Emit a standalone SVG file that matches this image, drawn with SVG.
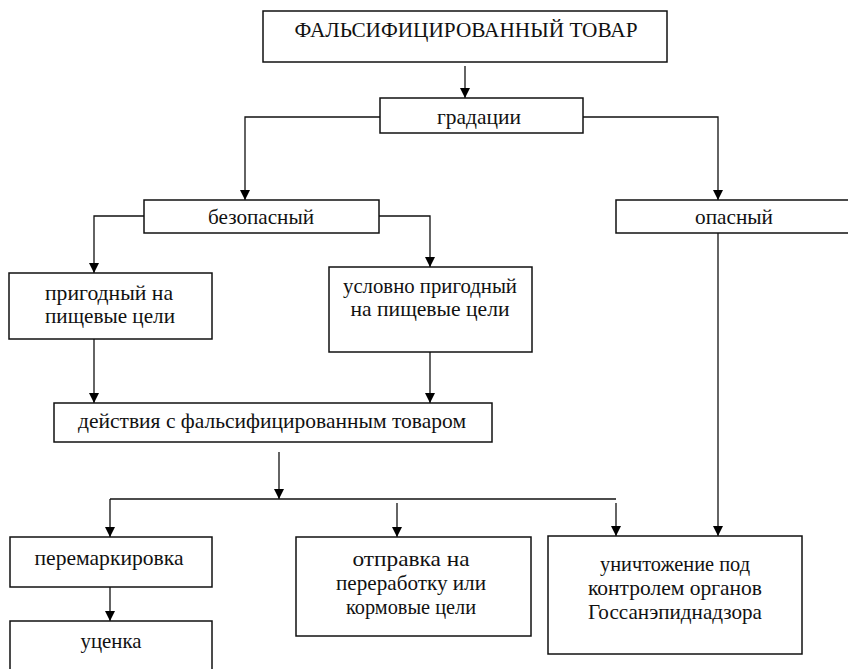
<svg xmlns="http://www.w3.org/2000/svg" width="848" height="669" viewBox="0 0 848 669">
<style>
  .box { fill: #ffffff; stroke: #111111; stroke-width: 1.5; }
  .lbl { font-family: "Liberation Serif", "DejaVu Serif", "Times New Roman", serif; font-size: 22px; fill: #111111; text-anchor: middle; }
  .conn { fill: none; stroke: #111111; stroke-width: 1.3; }
</style>
<defs>
  <marker id="arr" markerUnits="userSpaceOnUse" markerWidth="10" markerHeight="12" refX="10" refY="5" orient="auto" viewBox="0 0 10 10">
    <path d="M0,0 L10,5 L0,10 z" fill="#000000"/>
  </marker>
</defs>
<rect width="848" height="669" fill="#ffffff"/>

<g id="connectors">
  <path class="conn" d="M465,66 V98" marker-end="url(#arr)"/>
  <path class="conn" d="M380,117 H245 V200" marker-end="url(#arr)"/>
  <path class="conn" d="M583,117 H718 V200" marker-end="url(#arr)"/>
  <path class="conn" d="M144,216 H94 V273" marker-end="url(#arr)"/>
  <path class="conn" d="M379,216 H430 V267" marker-end="url(#arr)"/>
  <path class="conn" d="M94,339 V403" marker-end="url(#arr)"/>
  <path class="conn" d="M430,352 V403" marker-end="url(#arr)"/>
  <path class="conn" d="M279,452 V499" marker-end="url(#arr)"/>
  <path class="conn" d="M110,499 H616"/>
  <path class="conn" d="M110,499 V537" marker-end="url(#arr)"/>
  <path class="conn" d="M397,503 V537" marker-end="url(#arr)"/>
  <path class="conn" d="M616,503 V536" marker-end="url(#arr)"/>
  <path class="conn" d="M718,233 V536" marker-end="url(#arr)"/>
  <path class="conn" d="M110,587 V621" marker-end="url(#arr)"/>
</g>

<g id="n-falsified">
  <rect class="box" x="263" y="11" width="404" height="51"/>
  <text class="lbl" x="466" y="37" textLength="343" lengthAdjust="spacingAndGlyphs">ФАЛЬСИФИЦИРОВАННЫЙ ТОВАР</text>
</g>
<g id="n-gradations">
  <rect class="box" x="380" y="98" width="203" height="35"/>
  <text class="lbl" x="479" y="124" textLength="84" lengthAdjust="spacingAndGlyphs">градации</text>
</g>
<g id="n-safe">
  <rect class="box" x="144" y="200" width="235" height="33"/>
  <text class="lbl" x="261" y="224" textLength="106" lengthAdjust="spacingAndGlyphs">безопасный</text>
</g>
<g id="n-dangerous">
  <rect class="box" x="616" y="200" width="240" height="33"/>
  <text class="lbl" x="734" y="224" textLength="78" lengthAdjust="spacingAndGlyphs">опасный</text>
</g>
<g id="n-fit">
  <rect class="box" x="9" y="273" width="203" height="66"/>
  <text class="lbl" x="109" y="300" textLength="128" lengthAdjust="spacingAndGlyphs">пригодный на</text>
  <text class="lbl" x="110" y="323" textLength="130" lengthAdjust="spacingAndGlyphs">пищевые цели</text>
</g>
<g id="n-conditional">
  <rect class="box" x="329" y="267" width="203" height="85"/>
  <text class="lbl" x="430" y="293" textLength="174" lengthAdjust="spacingAndGlyphs">условно пригодный</text>
  <text class="lbl" x="430" y="316" textLength="159" lengthAdjust="spacingAndGlyphs">на пищевые цели</text>
</g>
<g id="n-actions">
  <rect class="box" x="54" y="403" width="438" height="39"/>
  <text class="lbl" x="272" y="428" textLength="388" lengthAdjust="spacingAndGlyphs">действия с фальсифицированным товаром</text>
</g>
<g id="n-remark">
  <rect class="box" x="10" y="537" width="202" height="50"/>
  <text class="lbl" x="109" y="565" textLength="149" lengthAdjust="spacingAndGlyphs">перемаркировка</text>
</g>
<g id="n-discount">
  <rect class="box" x="10" y="621" width="202" height="60"/>
  <text class="lbl" x="111" y="648" textLength="61" lengthAdjust="spacingAndGlyphs">уценка</text>
</g>
<g id="n-processing">
  <rect class="box" x="296" y="537" width="235" height="99"/>
  <text class="lbl" x="411" y="566" textLength="117" lengthAdjust="spacingAndGlyphs">отправка на</text>
  <text class="lbl" x="411" y="590" textLength="150" lengthAdjust="spacingAndGlyphs">переработку или</text>
  <text class="lbl" x="411" y="614" textLength="130" lengthAdjust="spacingAndGlyphs">кормовые цели</text>
</g>
<g id="n-destroy">
  <rect class="box" x="548" y="536" width="254" height="118"/>
  <text class="lbl" x="675" y="571" textLength="150" lengthAdjust="spacingAndGlyphs">уничтожение под</text>
  <text class="lbl" x="675" y="595" textLength="174" lengthAdjust="spacingAndGlyphs">контролем органов</text>
  <text class="lbl" x="675" y="619" textLength="174" lengthAdjust="spacingAndGlyphs">Госсанэпиднадзора</text>
</g>
</svg>
